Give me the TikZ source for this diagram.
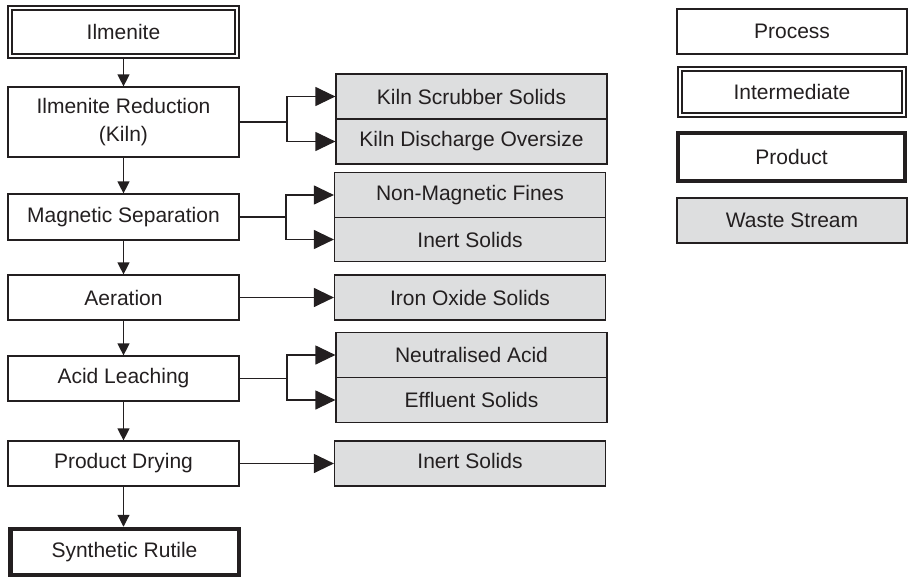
\documentclass[tikz,border=0pt]{standalone}
\usepackage{fontspec}
\setmainfont{Liberation Sans}
\usetikzlibrary{arrows.meta}
\definecolor{ink}{RGB}{35,31,32}
\definecolor{wastefill}{RGB}{221,222,223}
\tikzset{
  base/.style={draw=ink, text=ink, line width=1.2pt, inner sep=0pt, align=center,
    font=\fontsize{21}{28}\selectfont},
  procbox/.style={base, fill=white},
  interbox/.style={base, fill=white, line width=2.2pt, double=white, double distance=1.8pt},
  prodbox/.style={base, fill=white, line width=4.5pt},
  wastebox/.style={base, fill=wastefill},
  varrow/.style={draw=ink, line width=1.2pt, -{Triangle[length=12pt,width=12pt]}},
  harrow/.style={draw=ink, line width=1.2pt, -{Triangle[length=20pt,width=19pt]}},
}
\begin{document}
\begin{tikzpicture}[x=1pt,y=-1pt]
\useasboundingbox (0,0) rectangle (909,578);
% main column
\node[interbox, minimum width=227pt, minimum height=48pt] (ilm) at (123.5,32) {Ilmenite};
\node[procbox, minimum width=231pt, minimum height=70pt] (red) at (123.5,122) {Ilmenite Reduction\\(Kiln)};
\node[procbox, minimum width=231pt, minimum height=46pt] (mag) at (123.5,217) {Magnetic Separation};
\node[procbox, minimum width=231pt, minimum height=45pt] (aer) at (123.5,297.5) {Aeration};
\node[procbox, minimum width=231pt, minimum height=45pt] (acid) at (123.5,378.5) {Acid Leaching};
\node[procbox, minimum width=231pt, minimum height=45pt] (dry) at (123.5,463.5) {Product Drying};
\node[prodbox, minimum width=228.5pt, minimum height=46pt] (rut) at (124.5,552) {Synthetic Rutile};
% waste streams
\node[wastebox, minimum width=271pt, minimum height=45pt] (ks) at (471.5,96.5) {Kiln Scrubber Solids};
\node[wastebox, minimum width=271pt, minimum height=45pt] (kd) at (471.5,141.5) {Kiln Discharge Oversize};
\node[wastebox, minimum width=271pt, minimum height=45pt] (nm) at (470,195) {Non-Magnetic Fines};
\node[wastebox, minimum width=271pt, minimum height=44.5pt] (in1) at (470,239.5) {Inert Solids};
\node[wastebox, minimum width=271pt, minimum height=45pt] (io) at (470,297.5) {Iron Oxide Solids};
\node[wastebox, minimum width=271pt, minimum height=45pt] (na) at (471.5,355) {Neutralised Acid};
\node[wastebox, minimum width=271pt, minimum height=45pt] (ef) at (471.5,400) {Effluent Solids};
\node[wastebox, minimum width=271pt, minimum height=45pt] (in2) at (470,463.5) {\raisebox{5pt}{Inert Solids}};
% legend
\node[procbox, minimum width=230pt, minimum height=45pt] (lproc) at (792,31.5) {Process};
\node[interbox, minimum width=224pt, minimum height=46pt] (linter) at (792,92) {Intermediate};
\node[prodbox, minimum width=227pt, minimum height=48pt] (lprod) at (791.5,157) {Product};
\node[wastebox, minimum width=230pt, minimum height=45pt] (lwaste) at (792,220.5) {Waste Stream};
% vertical flow
\draw[varrow] (ilm) -- (red);
\draw[varrow] (red) -- (mag);
\draw[varrow] (mag) -- (aer);
\draw[varrow] (aer) -- (acid);
\draw[varrow] (acid) -- (dry);
\draw[varrow] (dry.south) -- (dry.south |- rut.north);
% branches
\coordinate (bk) at (287,122);
\coordinate (bm) at (286,217);
\coordinate (ba) at (287,378.5);
\draw[draw=ink, line width=1.2pt] (red.east) -- (bk);
\draw[harrow] (bk) |- (ks.west);
\draw[harrow] (bk) |- (kd.west);
\draw[draw=ink, line width=1.2pt] (mag.east) -- (bm);
\draw[harrow] (bm) |- (nm.west);
\draw[harrow] (bm) |- (in1.west);
\draw[harrow] (aer.east) -- (io.west);
\draw[draw=ink, line width=1.2pt] (acid.east) -- (ba);
\draw[harrow] (ba) |- (na.west);
\draw[harrow] (ba) |- (ef.west);
\draw[harrow] (dry.east) -- (in2.west);
\end{tikzpicture}
\end{document}
